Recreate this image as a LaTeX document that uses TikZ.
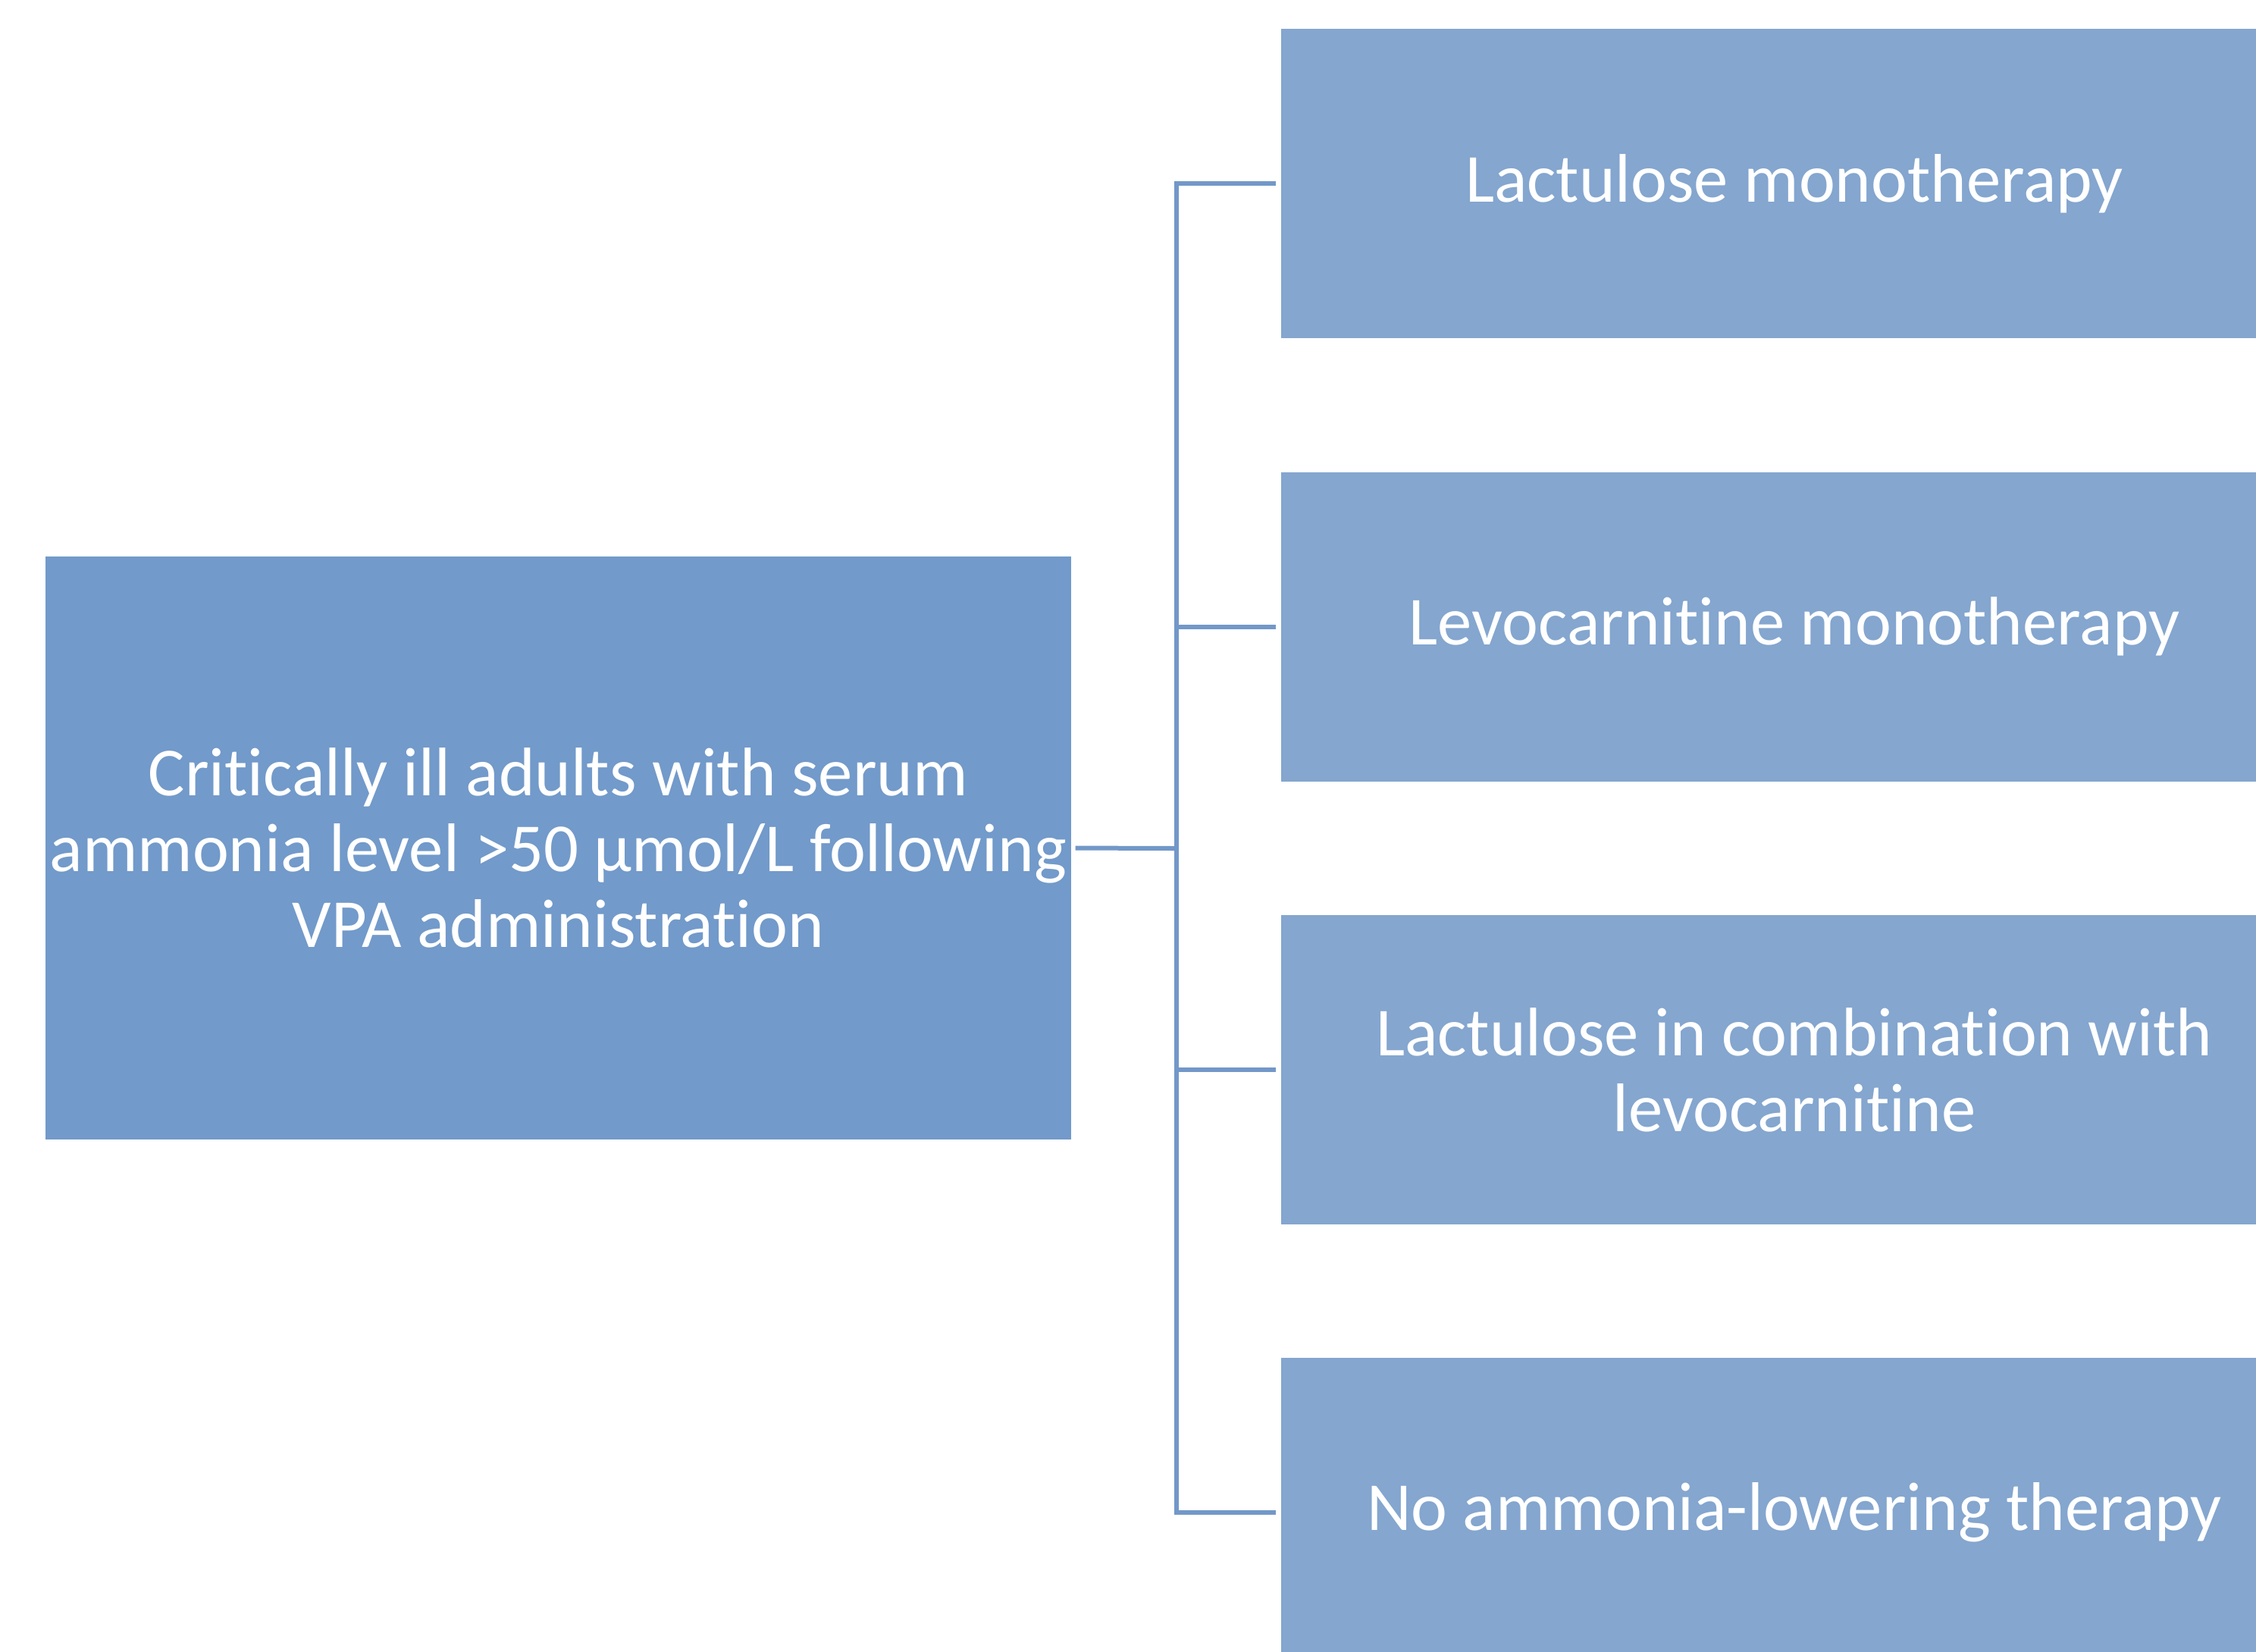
\documentclass[tikz,border=0pt]{standalone}
\usepackage{fontspec}
\setmainfont{Carlito}[Ligatures=NoCommon]
\definecolor{leftfill}{RGB}{114,154,202}
\definecolor{rightfill}{RGB}{132,166,207}
\definecolor{connline}{RGB}{114,152,200}
\begin{document}
\begin{tikzpicture}[
  box/.style={rectangle, inner sep=0pt, text=white, align=center,
    font=\fontsize{25.8}{28.5}\selectfont},
  leftbox/.style={box, fill=leftfill, minimum width=13.53cm, minimum height=7.69cm},
  rightbox/.style={box, fill=rightfill, minimum width=13.54cm, minimum height=4.08cm},
  conn/.style={draw=connline, line width=0.06cm}
]
\useasboundingbox (0,0) rectangle (29.76,-21.78);
\clip (0,0) rectangle (29.76,-21.78);
\node[leftbox] (L) at (7.365,-11.185) {Critically ill adults with serum\\ammonia level >50 µmol/L following\\VPA administration};
\node[rightbox] (b1) at (23.67,-2.42) {Lactulose monotherapy};
\node[rightbox] (b2) at (23.67,-8.265) {Levocarnitine monotherapy};
\node[rightbox] (b3) at (23.67,-14.11) {Lactulose in combination with\\levocarnitine};
\node[rightbox] (b4) at (23.67,-19.95) {No ammonia-lowering therapy};
\coordinate (sp) at (15.52,-11.19);
\draw[conn,shorten <=.06cm,shorten >=.06cm] (b1.west) -- (b1.west -| sp) -- (b4.west -| sp) -- (b4.west);
\draw[conn,shorten >=.06cm] (b2.west -| sp) -- (b2.west);
\draw[conn,shorten >=.06cm] (b3.west -| sp) -- (b3.west);
\draw[conn,shorten <=.05cm] (L.east) -- (sp);
\end{tikzpicture}
\end{document}
